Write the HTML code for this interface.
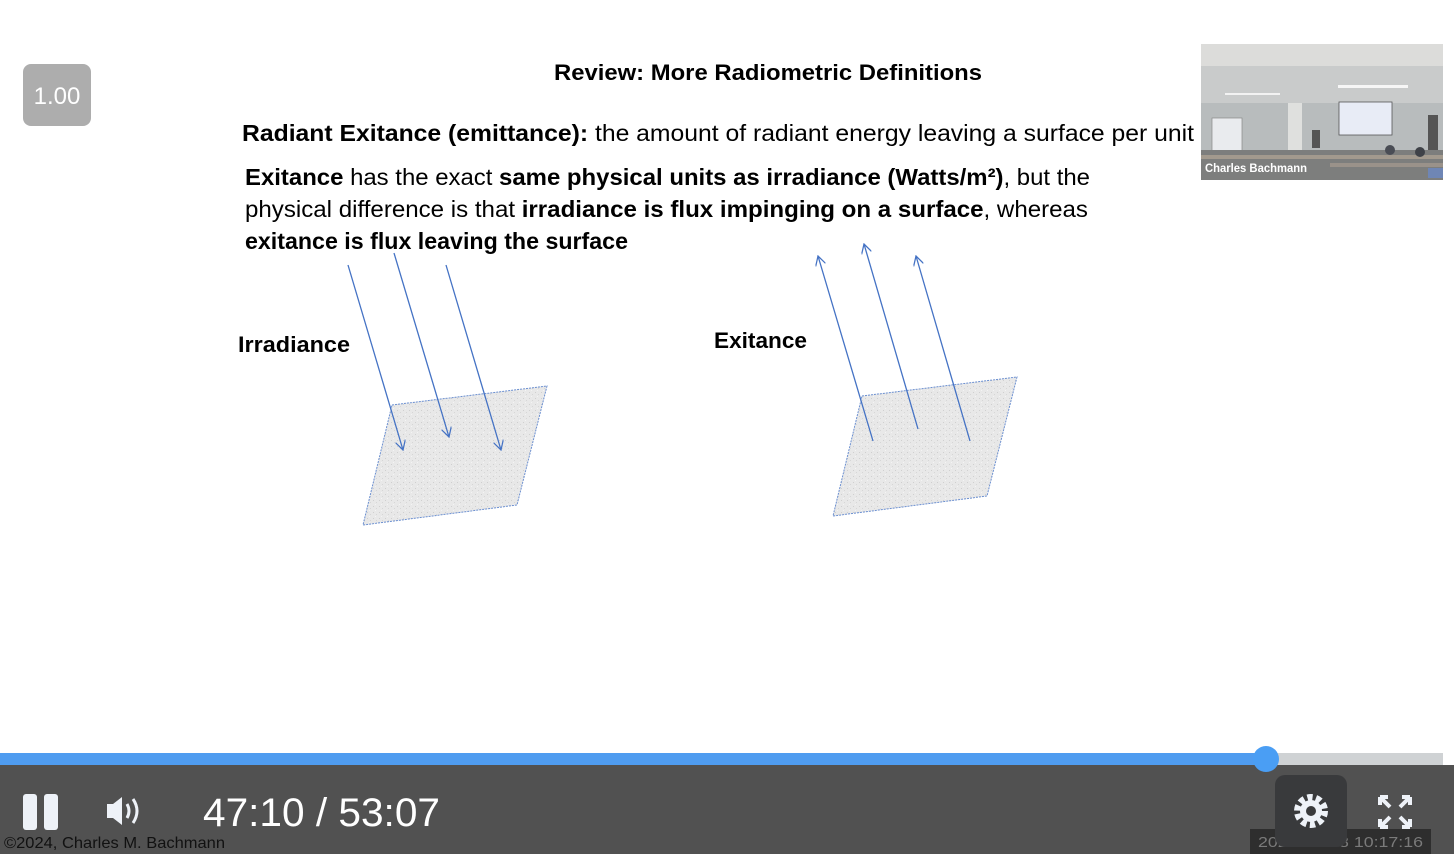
<!DOCTYPE html>
<html><head><meta charset="utf-8"><style>
html,body{margin:0;padding:0;width:1454px;height:854px;overflow:hidden;background:#fff;font-family:"Liberation Sans",sans-serif}
svg{position:absolute;left:0;top:0}
</style></head><body>
<svg width="1454" height="854" viewBox="0 0 1454 854">
<defs>
<pattern id="spk" width="6" height="6" patternUnits="userSpaceOnUse">
<rect width="6" height="6" fill="#e8e8e8"/><rect x="1" y="2" width="1" height="1" fill="#cfcfcf"/><rect x="4" y="4" width="1" height="1" fill="#d6d6d6"/><rect x="3" y="0" width="1" height="1" fill="#f4f4f4"/>
</pattern>
<marker id="ah" viewBox="0 0 10 10" refX="9" refY="5" markerWidth="8" markerHeight="8" orient="auto"><path d="M0,0 L9,5 L0,10" fill="none" stroke="#4472c4" stroke-width="1.2"/></marker>
</defs>
<g>
<text x="554" y="80" font-size="22" font-weight="bold" textLength="428" lengthAdjust="spacingAndGlyphs">Review: More Radiometric Definitions</text>
<text x="242" y="141" font-size="23" textLength="952" lengthAdjust="spacingAndGlyphs"><tspan font-weight="bold">Radiant Exitance (emittance):</tspan>  the amount of radiant energy leaving a surface per unit</text>
<text x="245" y="185" font-size="23" textLength="845" lengthAdjust="spacingAndGlyphs"><tspan font-weight="bold">Exitance</tspan> has the exact <tspan font-weight="bold">same physical units as irradiance (Watts/m²)</tspan>, but the</text>
<text x="245" y="217" font-size="23" textLength="843" lengthAdjust="spacingAndGlyphs">physical difference  is that <tspan font-weight="bold">irradiance is flux impinging on a surface</tspan>, whereas</text>
<text x="245" y="249" font-size="23" font-weight="bold" textLength="383" lengthAdjust="spacingAndGlyphs">exitance is flux leaving the surface</text>
<text x="238" y="352" font-size="22" font-weight="bold" textLength="112" lengthAdjust="spacingAndGlyphs">Irradiance</text>
<text x="714" y="348" font-size="22" font-weight="bold" textLength="93" lengthAdjust="spacingAndGlyphs">Exitance</text>
<polygon points="392,405 547,386 517,505 363,525" fill="url(#spk)" stroke="#6b8fd0" stroke-width="1" stroke-dasharray="2,1"/>
<polygon points="862,396 1017,377 987,496 833,516" fill="url(#spk)" stroke="#6b8fd0" stroke-width="1" stroke-dasharray="2,1"/>
<g stroke="#4472c4" stroke-width="1.3" fill="none" marker-end="url(#ah)">
<line x1="348" y1="265" x2="403" y2="450"/>
<line x1="394" y1="253" x2="449" y2="437"/>
<line x1="446" y1="265" x2="501" y2="450"/>
<line x1="873" y1="441" x2="818" y2="256"/>
<line x1="918" y1="429" x2="864" y2="244"/>
<line x1="970" y1="441" x2="916" y2="256"/>
</g>
</g>
<g>
<rect x="23" y="64" width="68" height="62" rx="8" fill="#adadad"/>
<text x="57" y="104" font-size="24" fill="#fff" text-anchor="middle">1.00</text>
</g>
<g>
<rect x="1201" y="44" width="242" height="136" fill="#c9cbcb"/>
<rect x="1201" y="44" width="242" height="22" fill="#dcdcda"/>
<rect x="1338" y="85" width="70" height="3" fill="#f6f6f6"/>
<rect x="1225" y="93" width="55" height="2" fill="#f2f2f2"/>
<rect x="1201" y="103" width="242" height="55" fill="#b8bcbd"/>
<rect x="1212" y="118" width="30" height="33" fill="#e9ebee" stroke="#888" stroke-width="0.7"/>
<rect x="1339" y="102" width="53" height="33" fill="#e8ecf6" stroke="#555" stroke-width="0.8"/>
<rect x="1288" y="103" width="14" height="55" fill="#dfe0de"/>
<rect x="1428" y="115" width="10" height="35" fill="#555"/>
<rect x="1312" y="130" width="8" height="18" fill="#555"/>
<rect x="1201" y="150" width="242" height="30" fill="#7d7e7d"/>
<rect x="1201" y="155" width="242" height="4" fill="#a39a8e"/>
<rect x="1330" y="163" width="113" height="4" fill="#9a928a"/>
<circle cx="1390" cy="150" r="5" fill="#4a4d55"/>
<circle cx="1420" cy="152" r="5" fill="#3f4248"/>
<rect x="1428" y="168" width="15" height="10" fill="#6f86b5"/>
<text x="1205" y="172" font-size="12" font-weight="bold" fill="#fff" textLength="102" lengthAdjust="spacingAndGlyphs">Charles Bachmann</text>
</g>
<g>
<rect x="0" y="765" width="1454" height="89" fill="#515151"/>
<rect x="0" y="753" width="1443" height="12" fill="#cfd2d4"/>
<rect x="0" y="753" width="1266" height="12" fill="#4f9cf0"/>
<circle cx="1266" cy="759" r="13" fill="#4a9ef4"/>
<g fill="#eef2f8">
<rect x="23" y="794" width="14" height="36" rx="3"/><rect x="44" y="794" width="14" height="36" rx="3"/>
</g>
<g>
<path d="M107,804 h6 l9,-7 v28 l-9,-7 h-6 z" fill="#eef2f8"/>
<path d="M127,804 q4,7 0,14" stroke="#eef2f8" stroke-width="3" fill="none"/>
<path d="M133,799 q8,12 0,24" stroke="#eef2f8" stroke-width="3" fill="none"/>
</g>
<text x="203" y="826" font-size="40" fill="#fff" textLength="237" lengthAdjust="spacingAndGlyphs">47:10 / 53:07</text>
<text x="4" y="848" font-size="16" fill="#111" textLength="221" lengthAdjust="spacingAndGlyphs">©2024, Charles M. Bachmann</text>
<rect x="1250" y="829" width="181" height="25" fill="#2e2e2e"/>
<text x="1258" y="847" font-size="15" fill="#7a7a7a" textLength="165" lengthAdjust="spacingAndGlyphs">2024-10-08 10:17:16</text>
<g>
<rect x="1275" y="775" width="72" height="72" rx="10" fill="#393a3c"/>
<circle cx="1311" cy="811" r="13" fill="none" stroke="#eef2f8" stroke-width="8" stroke-dasharray="5,3.2"/>
<circle cx="1311" cy="811" r="11" fill="#eef2f8"/>
<circle cx="1311" cy="811" r="5" fill="#393a3c"/>
</g>
<g stroke="#eef2f8" stroke-width="4" fill="none">
<path d="M1380,797 l10,10 M1380,797 h8 M1380,797 v8"/>
<path d="M1410,797 l-10,10 M1410,797 h-8 M1410,797 v8"/>
<path d="M1380,827 l10,-10 M1380,827 h8 M1380,827 v-8"/>
<path d="M1410,827 l-10,-10 M1410,827 h-8 M1410,827 v-8"/>
</g>
</g>
</svg>
</body></html>
